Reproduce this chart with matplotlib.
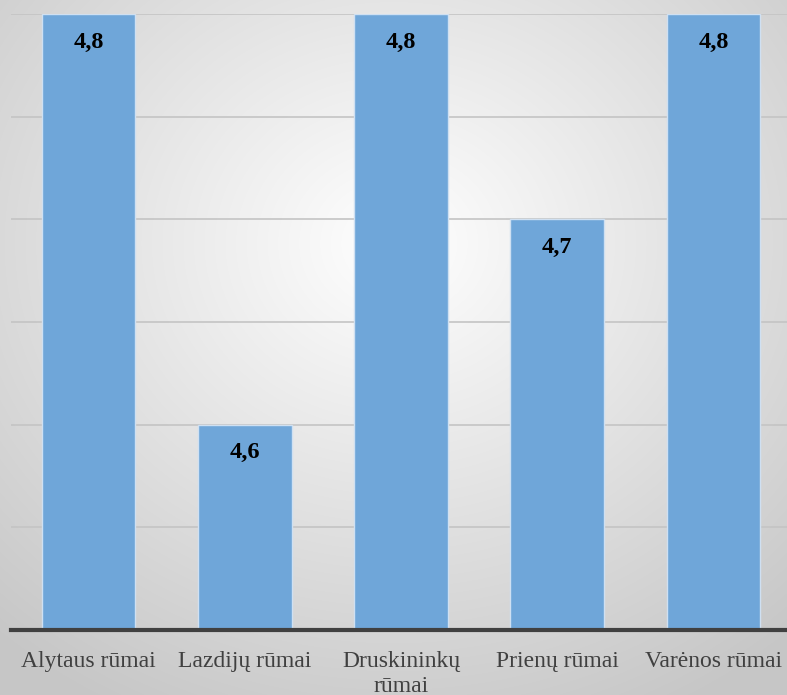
import numpy as np
import matplotlib
matplotlib.use("Agg")
import matplotlib.pyplot as plt

categories = ["Alytaus rūmai", "Lazdijų rūmai", "Druskininkų\nrūmai", "Prienų rūmai", "Varėnos rūmai"]
values = [4.8, 4.6, 4.8, 4.7, 4.8]
value_labels = ["4,8", "4,6", "4,8", "4,7", "4,8"]

W, H = 787, 695
fig = plt.figure(figsize=(W / 100, H / 100), dpi=100)

# radial gradient background
bg = fig.add_axes([0, 0, 1, 1], zorder=0)
yy, xx = np.mgrid[0:H, 0:W]
cx, cy = W * 0.5, H * 0.35
r = np.sqrt(((xx - cx) / W) ** 2 + ((yy - cy) / H) ** 2) / 0.75
r = np.clip(r, 0, 1)
v = 1.0 - 0.22 * r
img = np.dstack([v, v, v])
bg.imshow(img, aspect="auto", extent=[0, 1, 0, 1])
bg.axis("off")

left = 10.5 / W
right = 791.5 / W
bottom = (H - 630) / H
top = (H - 14) / H
ax = fig.add_axes([left, bottom, right - left, top - bottom], zorder=1)
ax.patch.set_alpha(0)

x = np.arange(len(categories))
ax.bar(x, values, width=0.6, color="#6fa6d9", edgecolor="#cfe0f2", linewidth=1.0, zorder=2)
ax.set_xlim(-0.5, 4.5)
ax.set_ylim(4.5, 4.8)
ax.set_yticks(np.arange(4.5, 4.81, 0.05))
ax.yaxis.grid(True, color="#c4c4c4", linewidth=1.2, zorder=0)
ax.set_axisbelow(True)
ax.tick_params(axis="y", left=False, labelleft=False)
ax.tick_params(axis="x", length=0, pad=15)
ax.set_xticks(x)
ax.set_xticklabels(categories, fontfamily="Liberation Serif", fontsize=17, color="#404040", linespacing=1.25)
for s in ["top", "right", "left"]:
    ax.spines[s].set_visible(False)
ax.spines["bottom"].set_color("#404040")
ax.spines["bottom"].set_linewidth(3)
ax.spines["bottom"].set_zorder(3)

for xi, val, lab in zip(x, values, value_labels):
    ax.annotate(lab, (xi, val), xytext=(0, -28), textcoords="offset pixels",
                ha="center", va="center", fontfamily="Liberation Serif", fontsize=17.5,
                fontweight="bold", color="black", zorder=4)

fig.savefig("out.png", dpi=100)
